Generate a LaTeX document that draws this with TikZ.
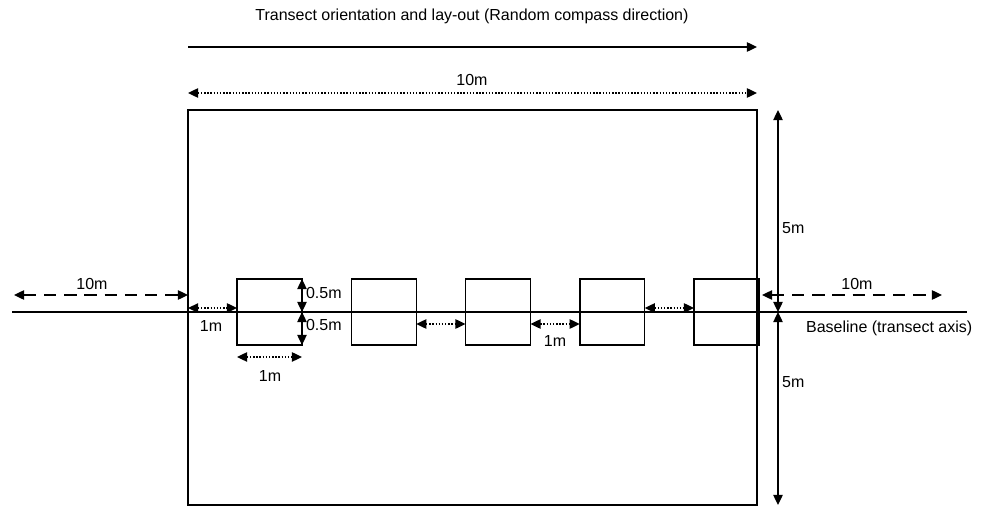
\documentclass[tikz,border=0pt]{standalone}
\usepackage{fontspec}
\setmainfont{Liberation Sans}
\usetikzlibrary{calc,arrows.meta}

\begin{document}
\begin{tikzpicture}[x=0.02cm,y=-0.02cm,
  every node/.style={font=\fontsize{9.1}{11}\selectfont,inner sep=1pt},
  dimline/.style={line width=0.8pt,{Triangle[length=5.8pt,width=5.4pt]}-{Triangle[length=5.8pt,width=5.4pt]}},
  dotdim/.style={dimline,densely dotted},
  dashdim/.style={dimline,dash pattern=on 7pt off 4.5pt},
  quadrat/.style={draw,line width=0.85pt,minimum width=1.3cm,minimum height=1.32cm,inner sep=0pt,outer sep=0pt}]
\useasboundingbox (0,0) rectangle (988,507);

% plot and baseline
\node[draw,line width=0.85pt,minimum width=11.38cm,minimum height=7.9cm,inner sep=0pt,outer sep=0pt] (plot) at (472.5,307.5) {};
\coordinate (blL) at (12,312);
\coordinate (blR) at (967,312);
\draw[line width=0.85pt] (blL) -- (blR);
\node[anchor=west] (bltext) at (804,328) {Baseline (transect axis)};

% quadrats
\foreach \i in {1,...,5}
  \node[quadrat] (q\i) at ({269.5+114.25*(\i-1)},312) {};

% orientation
\node (title) at (472,16) {Transect orientation and lay-out (Random compass direction)};
\coordinate (oL) at (188,47);
\coordinate (oR) at (757,47);
\draw[line width=0.8pt,-{Triangle[length=5.8pt,width=5.4pt]}] (oL) -- (oR);

% 10 m along the plot
\coordinate (lenL) at (188,93);
\coordinate (lenR) at (757,93);
\draw[dotdim] (lenL) -- (lenR);
\node (lenlab) at (472,80) {10m};

% 5 m either side
\coordinate (wMid) at (778,312);
\coordinate (wTop) at (778,110);
\coordinate (wBot) at (778,505);
\draw[dimline] (wMid) -- (wTop);
\draw[dimline] (wMid) -- (wBot);
\node[anchor=west] (wlabA) at (780,228) {5m};
\node[anchor=west] (wlabB) at (780,382) {5m};

% 10 m outside the plot
\coordinate (exL) at (14,295);
\coordinate (exLin) at (188,295);
\coordinate (exRin) at (762,295);
\coordinate (exR) at (942,295);
\draw[dashdim] (exL) -- (exLin);
\draw[dashdim] (exRin) -- (exR);
\node (exlabL) at (92,284) {10m};
\node (exlabR) at (857,284) {10m};

% quadrat size
\draw[dimline] (q1.north east) -- (q1.east);
\draw[dimline] (q1.east) -- (q1.south east);
\node[anchor=west] (hlabA) at (304,293) {0.5m};
\node[anchor=west] (hlabB) at (304,325) {0.5m};
\draw[dotdim] ($(q1.south west)+(0,12)$) -- ($(q1.south east)+(0,12)$);
\node (qwlab) at (270,376) {1m};

% spacing between quadrats
\draw[dotdim] ($(plot.west |- q1.west)+(0,-4)$) -- ($(q1.west)+(0,-4)$);
\node (gaplabA) at (211,326) {1m};
\draw[dotdim] ($(q2.east)+(0,12)$) -- ($(q3.west)+(0,12)$);
\draw[dotdim] ($(q3.east)+(0,12)$) -- ($(q4.west)+(0,12)$);
\node (gaplabB) at (555,341) {1m};
\draw[dotdim] ($(q4.east)+(0,-4)$) -- ($(q5.west)+(0,-4)$);
\end{tikzpicture}
\end{document}
